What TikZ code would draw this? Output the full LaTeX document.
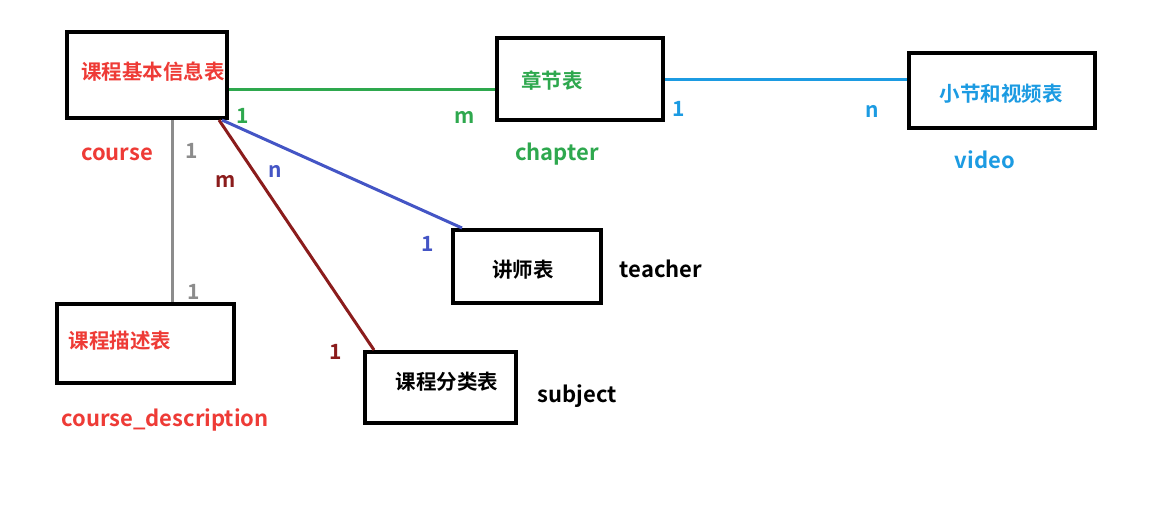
\documentclass[tikz,border=0pt]{standalone}
\usepackage{fontspec}
\setmainfont{Noto Sans CJK SC}[BoldFont={* Bold}]
\definecolor{cred}{HTML}{EE3B36}
\definecolor{cgreen}{HTML}{2EA84E}
\definecolor{csky}{HTML}{1C9BE2}
\definecolor{cgray}{HTML}{8C8C8C}
\definecolor{cdark}{HTML}{8B1C1C}
\definecolor{croyal}{HTML}{4455C5}
\tikzset{
  tbl/.style={draw=black, line width=4pt, inner sep=0pt, fill=white},
  lbl/.style={font=\fontsize{20.5}{20.5}\selectfont\bfseries, inner sep=0pt},
  eng/.style={font=\fontsize{22}{22}\selectfont\bfseries, inner sep=0pt},
  card/.style={font=\fontsize{21}{21}\selectfont\bfseries, inner sep=0pt},
  rel/.style={line width=3pt}
}
\begin{document}
\begin{tikzpicture}[x=1pt,y=-1pt]
\useasboundingbox[fill=white] (0,0) rectangle (1169,504);
% boxes
\node[tbl, minimum width=160, minimum height=86] (course) at (147,75) {};
\node[tbl, minimum width=166, minimum height=82] (chapter) at (580,79) {};
\node[tbl, minimum width=186, minimum height=75] (video) at (1002,90.5) {};
\node[tbl, minimum width=148, minimum height=73] (teacher) at (527,266.5) {};
\node[tbl, minimum width=151, minimum height=71] (subject) at (440.5,387.5) {};
\node[tbl, minimum width=177, minimum height=79] (desc) at (145.5,343.5) {};
% connectors
\draw[rel, cgreen] (course.-10.6) -- (course.-10.6 -| chapter.west);
\draw[rel, csky] (chapter.east) -- (chapter.east -| video.west);
\draw[rel, cgray] ([xshift=25]course.south) -- ([xshift=25]course.south |- desc.north);
\draw[rel, cdark] ([xshift=-10]course.south east) -- ([xshift=11]subject.north west);
\draw[rel, croyal] ([xshift=-7]course.south east) -- ([xshift=11]teacher.north west);
% titles
\node[lbl, text=cred] (tcourse) at (153,72) {课程基本信息表};
\node[lbl, text=cgreen] (tchapter) at (552,81) {章节表};
\node[lbl, text=csky] (tvideo) at (1001,94) {小节和视频表};
\node[lbl, text=black] (tteacher) at (523,270) {讲师表};
\node[lbl, text=black] (tsubject) at (447,382) {课程分类表};
\node[lbl, text=cred] (tdesc) at (120,341) {课程描述表};
% english names
\node[eng, text=cred] (ecourse) at (117,154) {course};
\node[eng, text=cgreen] (echapter) at (557,154) {chapter};
\node[eng, text=csky] (evideo) at (985,160) {video};
\node[eng, text=black] (eteacher) at (661,269) {teacher};
\node[eng, text=black] (esubject) at (577,396) {subject};
\node[eng, text=cred] (edesc) at (165,420) {course\_description};
% cardinalities
\node[card, text=cgreen] (c1) at (243,116) {1};
\node[card, text=cgreen] (c2) at (465,117) {m};
\node[card, text=csky] (c3) at (679,109) {1};
\node[card, text=csky] (c4) at (872,111) {n};
\node[card, text=cgray] (c5) at (192,151) {1};
\node[card, text=cgray] (c6) at (194,292) {1};
\node[card, text=cdark] (c7) at (226,181) {m};
\node[card, text=cdark] (c8) at (336,352) {1};
\node[card, text=croyal] (c9) at (275,171) {n};
\node[card, text=croyal] (c10) at (428,244) {1};
\end{tikzpicture}
\end{document}
